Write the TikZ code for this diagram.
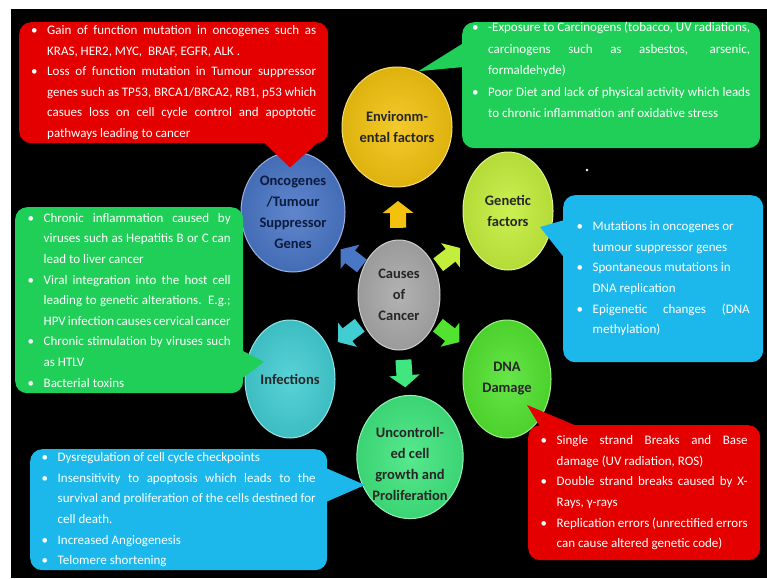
\documentclass[tikz,border=0pt]{standalone}
\usepackage{fontspec}
\setmainfont{Carlito}
\usetikzlibrary{shapes.geometric,arrows.meta,calc}
\definecolor{envgold}{HTML}{F2C20F}
\definecolor{oncoblue}{HTML}{4A76C6}
\definecolor{genlime}{HTML}{C4EE3C}
\definecolor{causegray}{HTML}{A8A8A8}
\definecolor{dnagreen}{HTML}{52E330}
\definecolor{infcyan}{HTML}{42CDD2}
\definecolor{uncgreen}{HTML}{40E67E}
\definecolor{notered}{HTML}{E50000}
\definecolor{notegreen}{HTML}{20CF58}
\definecolor{noteblue}{HTML}{1CB8EC}
\definecolor{navytext}{HTML}{0D1B3E}
\newcommand\notespace{\spaceskip=1\fontdimen2\font plus 8pt minus 1.2pt\relax}
\newcommand\bitem[1]{\hbox to \hsize{\notespace\hbox to 16pt{\textbullet\hfil}#1}}
\newcommand\bcont[1]{\hbox to \hsize{\notespace\hbox to 16pt{}#1}}
\begin{document}
\begin{tikzpicture}[x=1pt,y=-1pt,
    factor/.style={ellipse, shade, inner color=#1!88!white, outer color=#1!92!black, draw=#1!55!white, line width=1pt, text=black!85, font=\fontsize{14.5}{21}\selectfont\bfseries, align=center, inner sep=0pt},
    notebox/.style={fill=#1, rounded corners=12pt, text=white, inner sep=0pt, font=\fontsize{13}{20.6}\selectfont},
    wedge/.style={fill=#1},
    blockarrow/.style={line width=16pt, draw=#1, -{Triangle[width=30pt,length=12pt]}}]
  \fill[white] (0,0) rectangle (767,578);
  \fill[black] (11,9) rectangle (767,578);
  \fill[white] (587,170) circle (1.3);

  \node[factor=envgold, minimum width=110pt, minimum height=120pt] (env) at (397,127) {\notespace Environm-\\ental factors};
  \node[factor=oncoblue, text=navytext, minimum width=104pt, minimum height=120pt] (onco) at (293,212) {Oncogenes\\/Tumour\\Suppressor\\Genes};
  \node[factor=genlime, minimum width=90pt, minimum height=118pt] (gen) at (508,211) {Genetic\\factors};
  \node[factor=causegray, minimum width=82pt, minimum height=110pt] (causes) at (399,295) {Causes\\of\\Cancer};
  \node[factor=dnagreen, minimum width=88pt, minimum height=118pt] (dna) at (507,379) {DNA\\Damage};
  \node[factor=infcyan, minimum width=90pt, minimum height=118pt] (inf) at (290,379) {Infections};
  \node[factor=uncgreen, minimum width=106pt, minimum height=109pt] (unc) at (410,457) {\notespace\rule{0pt}{24pt}Uncontroll-\\ed cell\\growth and\\Proliferation};

  \draw[blockarrow=envgold] ($(causes)!0.40!(env)$) -- ($(causes)!0.56!(env)$);
  \draw[blockarrow=oncoblue] ($(causes)!0.35!(onco)$) -- ($(causes)!0.55!(onco)$);
  \draw[blockarrow=genlime] ($(causes)!0.36!(gen)$) -- ($(causes)!0.56!(gen)$);
  \draw[blockarrow=dnagreen] ($(causes)!0.36!(dna)$) -- ($(causes)!0.56!(dna)$);
  \draw[blockarrow=uncgreen] ($(causes)!0.40!(unc)$) -- ($(causes)!0.57!(unc)$);
  \draw[blockarrow=infcyan] ($(causes)!0.36!(inf)$) -- ($(causes)!0.56!(inf)$);

  \node[notebox=notered, text width=285pt, minimum width=309pt, minimum height=121pt, anchor=north west] (oncobox) at (19,22) {%
    \bitem{Gain of function mutation in oncogenes such as}
    \bcont{KRAS, HER2, MYC,\ \ BRAF, EGFR, ALK .\hfill}
    \bitem{Loss of function mutation in Tumour suppressor}
    \bcont{genes such as TP53, BRCA1/BRCA2, RB1, p53 which}
    \bcont{casues loss on cell cycle control and apoptotic}
    \bcont{pathways leading to cancer\hfill}};
  \node[notebox=notegreen, font=\fontsize{13}{21.5}\selectfont, text width=278pt, minimum width=298pt, minimum height=121pt, anchor=north west] (envbox) at (462,22) {%
    \bitem{-Exposure to Carcinogens (tobacco, UV radiations,}
    \bcont{carcinogens such as asbestos, arsenic,}
    \bcont{formaldehyde)\hfill}
    \bitem{Poor Diet and lack of physical activity which leads}
    \bcont{to chronic inflammation anf oxidative stress\hfill}
    \vspace{9pt}};
  \node[notebox=notegreen, text width=203pt, minimum width=228pt, minimum height=186pt, anchor=north west] (infbox) at (15,207) {%
    \bitem{Chronic inflammation caused by}
    \bcont{viruses such as Hepatitis B or C can}
    \bcont{lead to liver cancer\hfill}
    \bitem{Viral integration into the host cell}
    \bcont{leading to genetic alterations. E.g.;}
    \bcont{HPV infection causes cervical cancer}
    \bitem{Chronic stimulation by viruses such}
    \bcont{as HTLV\hfill}
    \bitem{Bacterial toxins\hfill}};
  \node[notebox=noteblue, text width=173pt, minimum width=200pt, minimum height=167pt, anchor=north west] (genbox) at (563,195) {%
    \bitem{Mutations in oncogenes or\hfill}
    \bcont{tumour suppressor genes\hfill}
    \bitem{Spontaneous mutations in\hfill}
    \bcont{DNA replication\hfill}
    \bitem{Epigenetic changes (DNA}
    \bcont{methylation)\hfill}};
  \node[notebox=noteblue, text width=274pt, minimum width=297pt, minimum height=121pt, anchor=north west] (uncbox) at (30,449) {%
    \bitem{Dysregulation of cell cycle checkpoints\hfill}
    \bitem{Insensitivity to apoptosis which leads to the}
    \bcont{survival and proliferation of the cells destined for}
    \bcont{cell death.\hfill}
    \bitem{Increased Angiogenesis\hfill}
    \bitem{Telomere shortening\hfill}};
  \node[notebox=notered, text width=207pt, minimum width=232pt, minimum height=135pt, anchor=north west] (dnabox) at (528,425) {%
    \bitem{Single strand Breaks and Base}
    \bcont{damage (UV radiation, ROS)\hfill}
    \bitem{Double strand breaks caused by X-}
    \bcont{Rays, γ-rays\hfill}
    \bitem{Replication errors (unrectified errors}
    \bcont{can cause altered genetic code)\hfill}};

  \fill[wedge=notered] ($(oncobox.south east)+(-65,-1.5)$) -- ($(onco.north)+(-3,16)$) -- ($(oncobox.south east)+(-10,-1.5)$) -- cycle;
  \fill[wedge=notegreen] ($(envbox.north west)+(1.5,21)$) -- (env.69) -- ($(envbox.north west)+(1.5,45)$) -- cycle;
  \fill[wedge=notegreen] ($(infbox.south east)+(-1.5,-43)$) -- ($(inf.center)+(-26,-17)$) -- ($(infbox.south east)+(-1.5,-15)$) -- cycle;
  \fill[wedge=noteblue] ($(genbox.north west)+(1.5,25)$) -- ($(gen.center)+(32,16)$) -- ($(genbox.north west)+(1.5,63)$) -- cycle;
  \fill[wedge=noteblue] ($(uncbox.north east)+(-1.5,19)$) -- ($(unc.center)+(-45,28)$) -- ($(uncbox.north east)+(-1.5,53)$) -- cycle;
  \fill[wedge=notered] ($(dnabox.north west)+(12,1.5)$) -- ($(dna.center)+(20,26)$) -- ($(dnabox.north west)+(50,1.5)$) -- cycle;
\end{tikzpicture}
\end{document}
